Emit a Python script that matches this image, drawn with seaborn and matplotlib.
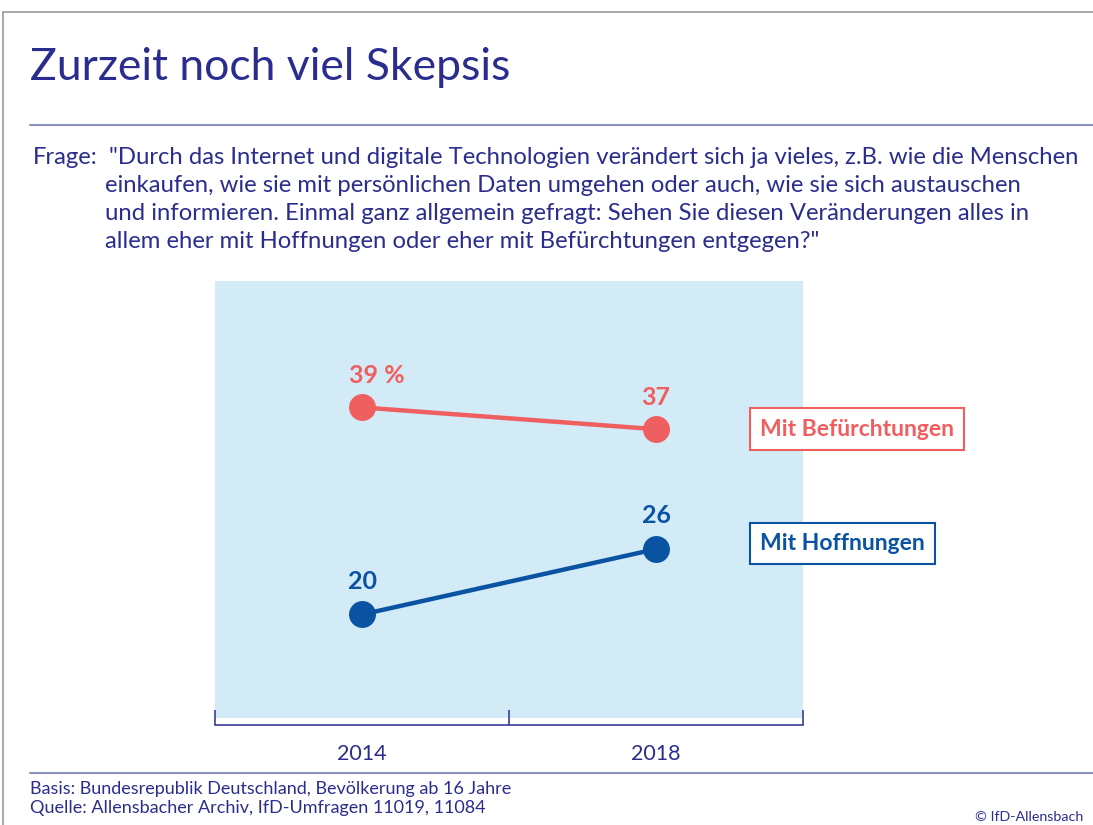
import pandas as pd
import matplotlib.pyplot as plt
import seaborn as sns

# data
years = ["2014", "2018"]
befuerchtungen = [39, 37]
hoffnungen = [20, 26]
labels_bef = ["39 %", "37"]
labels_hof = ["20", "26"]
groups = ["Mit Befürchtungen", "Mit Hoffnungen"]

df = pd.DataFrame({
    "Jahr": years * 2,
    "Wert": befuerchtungen + hoffnungen,
    "Gruppe": [groups[0]] * 2 + [groups[1]] * 2,
})

red = "#f05f60"
blue = "#0a53a3"
ink = "#2b2d8e"

sns.set_style("white")
plt.rcParams["font.family"] = ["Lato", "DejaVu Sans"]

fig = plt.figure(figsize=(10.93, 8.25), dpi=100)
ax = fig.add_axes([0.1967, 0.1297, 0.538, 0.5297])
ax.set_facecolor("#d3eaf7")

sns.pointplot(data=df, x="Jahr", y="Wert", hue="Gruppe", palette=[red, blue],
              markers="o", markersize=17, linewidth=3.2, ax=ax, legend=False)

ax.set_xlim(-0.5, 1.5)
ax.set_ylim(10.5, 50.6)
ax.set_xlabel("")
ax.set_ylabel("")
ax.set_yticks([])

for s in ["top", "left", "right"]:
    ax.spines[s].set_visible(False)
ax.spines["bottom"].set_color("#3a3c96")
ax.spines["bottom"].set_linewidth(1.2)
ax.spines["bottom"].set_position(("outward", 5))
ax.set_xticks([0, 1])
ax.set_xticks([-0.5, 0.5, 1.5], minor=True)
ax.tick_params(axis="x", which="major", bottom=False, length=0, labelsize=15.5,
               labelcolor=ink, pad=14)
ax.tick_params(axis="x", which="minor", bottom=True, direction="in", length=11,
               width=1.2, color="#3a3c96")

# value labels
for i, (v, t) in enumerate(zip(befuerchtungen, labels_bef)):
    dx = 11 if "%" in t else 0
    ax.annotate(t, (i, v), xytext=(dx, 23), textcoords="offset points",
                ha="center", va="center", fontsize=18, fontweight="bold", color=red)
for i, (v, t) in enumerate(zip(hoffnungen, labels_hof)):
    ax.annotate(t, (i, v), xytext=(0, 24), textcoords="offset points",
                ha="center", va="center", fontsize=18, fontweight="bold", color=blue)

# series boxes
ax.annotate(groups[0], (1, befuerchtungen[1]), xytext=(75, 0), textcoords="offset points",
            ha="left", va="center", fontsize=16.5, fontweight="bold", color=red,
            bbox=dict(boxstyle="square,pad=0.45", fc="white", ec=red, lw=1.5),
            annotation_clip=False)
ax.annotate(groups[1], (1, hoffnungen[1]), xytext=(75, 4), textcoords="offset points",
            ha="left", va="center", fontsize=16.5, fontweight="bold", color=blue,
            bbox=dict(boxstyle="square,pad=0.45", fc="white", ec=blue, lw=1.5),
            annotation_clip=False)

# frame
fig.add_artist(plt.Line2D([0.003, 1.0], [0.9855, 0.9855], color="#9a9a9a", lw=1.2))
fig.add_artist(plt.Line2D([0.003, 0.003], [0.0, 0.9855], color="#9a9a9a", lw=1.2))

# title
fig.text(0.027, 0.918, "Zurzeit noch viel Skepsis", fontsize=32, color=ink,
         ha="left", va="center")
fig.add_artist(plt.Line2D([0.027, 1.0], [0.848, 0.848], color="#8c90c2", lw=1.5))

# question
q_lines = [
    "\"Durch das Internet und digitale Technologien verändert sich ja vieles, z.B. wie die Menschen",
    "einkaufen, wie sie mit persönlichen Daten umgehen oder auch, wie sie sich austauschen",
    "und informieren. Einmal ganz allgemein gefragt: Sehen Sie diesen Veränderungen alles in",
    "allem eher mit Hoffnungen oder eher mit Befürchtungen entgegen?\"",
]
fig.text(0.030, 1 - 158 / 825, "Frage:", fontsize=17.2, color=ink, ha="left", va="center")
for k, line in enumerate(q_lines):
    x0 = 0.1 if k == 0 else 0.0965
    fig.text(x0, 1 - (158 + 28 * k) / 825, line, fontsize=17.2, color=ink,
             ha="left", va="center")

# footer
fig.add_artist(plt.Line2D([0.027, 1.0], [1 - 773 / 825, 1 - 773 / 825], color="#8c90c2", lw=1.5))
fig.text(0.027, 1 - 789 / 825, "Basis: Bundesrepublik Deutschland, Bevölkerung ab 16 Jahre",
         fontsize=13, color=ink, ha="left", va="center")
fig.text(0.027, 1 - 808 / 825, "Quelle: Allensbacher Archiv, IfD-Umfragen 11019, 11084",
         fontsize=13, color=ink, ha="left", va="center")
fig.text(0.991, 1 - 817 / 825, "© IfD-Allensbach", fontsize=10.3, color=ink,
         ha="right", va="center")

fig.savefig("out.png", dpi=100, facecolor="white")
